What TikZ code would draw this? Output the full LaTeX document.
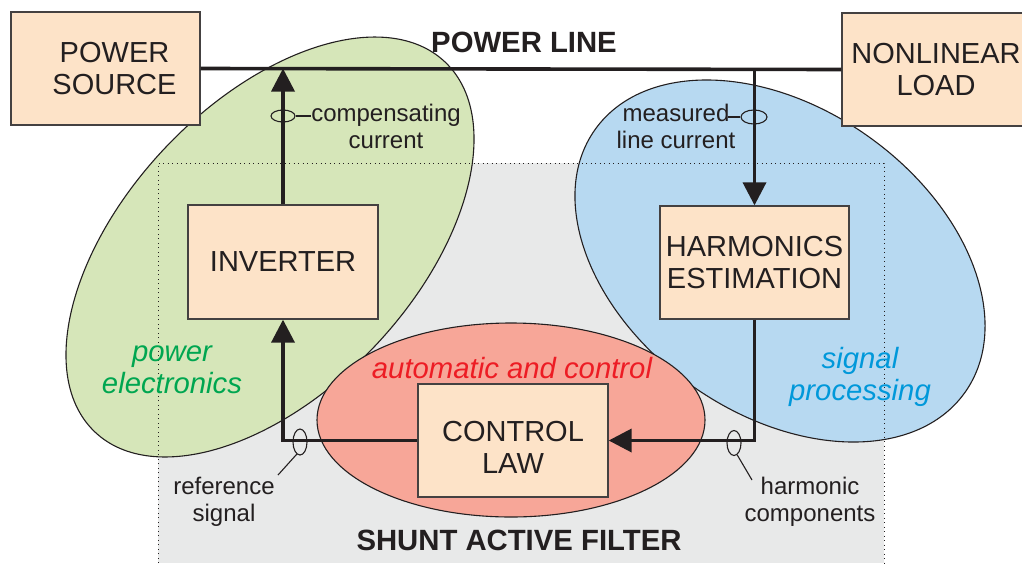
\documentclass[tikz,border=0pt]{standalone}
\usepackage{fontspec}
\setmainfont{Liberation Sans}
\usetikzlibrary{arrows.meta,shapes.geometric}
\definecolor{boxfill}{HTML}{FDE3C8}
\definecolor{pegreen}{HTML}{D6E6B9}
\definecolor{spblue}{HTML}{B7D9F1}
\definecolor{acred}{HTML}{F7A698}
\definecolor{safgray}{HTML}{E8E9E9}
\definecolor{ink}{HTML}{231F20}
\definecolor{txtgreen}{HTML}{00A650}
\definecolor{txtblue}{HTML}{0098DA}
\definecolor{txtred}{HTML}{ED1C24}
\begin{document}
\begin{tikzpicture}[x=1pt, y=-1pt,
    block/.style={draw=ink!85, line width=1.3pt, fill=boxfill, text=ink, align=center,
                  font=\fontsize{29}{32}\selectfont, inner sep=0pt},
    field/.style={draw=ink, line width=1.1pt},
    wire/.style={draw=ink, line width=3.6pt},
    signal/.style={wire, -{Triangle[length=23pt, width=23pt]}},
    probe/.style={draw=ink, line width=1.1pt},
    tag/.style={text=ink, align=center, font=\fontsize{24}{26.5}\selectfont, inner sep=0pt},
    area/.style={align=center, font=\fontsize{29.3}{31.5}\selectfont\itshape, inner sep=0pt},
    title/.style={text=ink, font=\fontsize{29.3}{32}\selectfont\bfseries, inner sep=0pt}]

    \useasboundingbox (0,0) rectangle (1022,563);

    % shunt active filter area
    \fill [safgray] (158,163) rectangle (884,563);

    % fields
    \filldraw [field, fill=pegreen, rotate around={46.6:(270,247)}] (270,247) ellipse [x radius=254.7, y radius=144.3];
    \filldraw [field, fill=spblue, rotate around={-35.4:(780,261)}] (780,261) ellipse [x radius=226.9, y radius=152.7];
    \filldraw [field, fill=acred] (511,420) ellipse [x radius=194, y radius=97];

    \draw [ink, line width=1pt, dash pattern=on 1pt off 3.5pt] (158,563) -- (158,163) -- (884,163) -- (884,563);

    % blocks
    \node [block, minimum width=189pt, minimum height=113pt] (source) at (105.5,68.5) {\hspace*{18pt}POWER\\\hspace*{18pt}SOURCE};
    \node [block, minimum width=188pt, minimum height=113pt] (load) at (936,69.5) {NONLINEAR\\LOAD};
    \node [block, minimum width=190pt, minimum height=114pt] (inverter) at (283,262) {INVERTER};
    \node [block, minimum width=189pt, minimum height=113pt] (harmonics) at (754.5,262.5) {HARMONICS\\ESTIMATION};
    \node [block, minimum width=190pt, minimum height=113pt] (control) at (513,440.5) {\rule{0pt}{33pt}CONTROL\\LAW};

    % power line and signals
    \draw [wire] (source.east) -- (load.west);
    \draw [signal] (inverter.north) -- (inverter.north |- source.east);
    \draw [signal] (harmonics.north |- load.west) -- (harmonics.north);
    \draw [signal] (harmonics.south) |- (control.east);
    \draw [signal] (control.west) -| (inverter.south);

    % probes and their labels
    \node [probe, ellipse, minimum width=24pt, minimum height=12pt, inner sep=0pt] (pcomp) at (283,116) {};
    \node [probe, ellipse, minimum width=26pt, minimum height=14pt, inner sep=0pt] (pmeas) at (754,117) {};
    \node [probe, ellipse, minimum width=14pt, minimum height=25pt, inner sep=0pt] (pharm) at (734,443) {};
    \node [probe, ellipse, minimum width=14pt, minimum height=26pt, inner sep=0pt] (pref) at (300,442) {};

    \node [tag] (lcomp) at (386,126.4) {compensating\\current};
    \node [tag] (lmeas) at (676,126.4) {measured\\line current};
    \node [tag] (lharm) at (810,502) {harmonic\\components};
    \node [tag] (lref) at (224,502) {reference\\signal};

    \coordinate (measend) at (728,117);
    \coordinate (harmend) at (752,480);
    \coordinate (refend) at (278,475);

    \draw [probe] (pcomp.east) -- (pcomp.east -| lcomp.west);
    \draw [probe] (pmeas.west) -- (measend);
    \draw [probe] (pharm.-75) -- (harmend);
    \draw [probe] (pref.-105) -- (refend);

    % field names
    \node [area, text=txtgreen] (pe) at (172,370) {power\\electronics};
    \node [area, text=txtblue] (sp) at (860,377) {signal\\processing};
    \node [area, text=txtred, anchor=base] (ac) at (512,378) {automatic and control};

    \node [title, anchor=base] (line) at (524,52) {POWER LINE};
    \node [title, anchor=base] (saf) at (519,550) {SHUNT ACTIVE FILTER};

\end{tikzpicture}
\end{document}
